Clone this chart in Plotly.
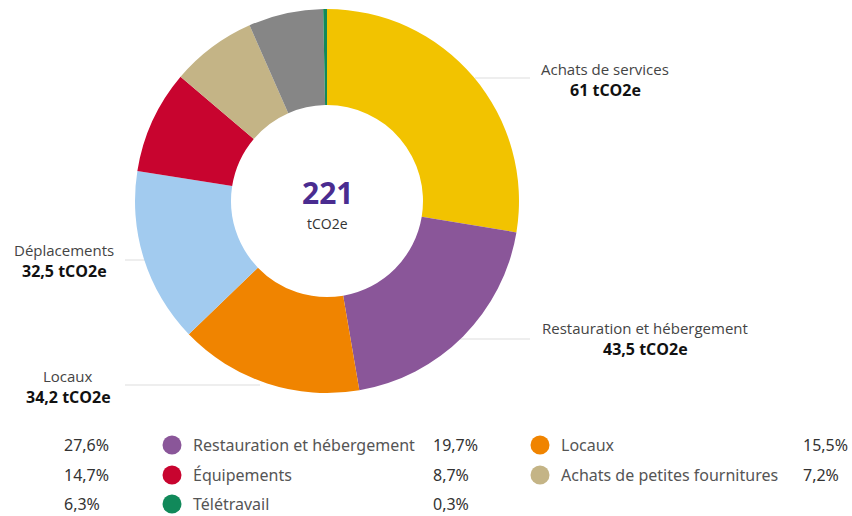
import plotly.graph_objects as go

# data
categories = ["Achats de services", "Restauration et hébergement", "Locaux",
              "Déplacements", "Équipements", "Achats de petites fournitures",
              "Autres", "Télétravail"]
values = [61, 43.5, 34.2, 32.5, 19.2, 15.9, 13.9, 0.7]
colors = ["#F2C300", "#8A5699", "#F08400", "#A2CBEF",
          "#C8042F", "#C4B486", "#868686", "#11895A"]
unit = "tCO2e"

# slices that get an outside callout: (index, text x px, text y px, line x0, line x1, line y)
callouts = [
    (0, 605, 79, 475, 530, 78),
    (1, 645, 338, 460, 530, 339),
    (3, 64, 260, 125, 150, 260),
    (2, 68, 386, 125, 260, 385),
]

W, H = 852, 516
FONT = "Open Sans"
LEG_FONT = "Noto Sans"


def px(x):
    return x / W


def py(y):
    return 1 - y / H


def fmt(v, nd=1):
    s = f"{v:.{nd}f}".replace(".", ",")
    if s.endswith(",0"):
        s = s[:-2]
    return s


total = sum(values)
shares = [v / total * 100 for v in values]

fig = go.Figure(go.Pie(
    labels=categories,
    values=values,
    marker=dict(colors=colors, line=dict(width=0)),
    hole=0.5,
    sort=False,
    direction="clockwise",
    rotation=0,
    textinfo="none",
    showlegend=False,
    domain=dict(x=[px(327 - 192), px(327 + 192)], y=[py(393), py(9)]),
))

annotations = [
    dict(x=px(327), y=py(192), text=f"<b>{round(total)}</b>", showarrow=False,
         xanchor="center", yanchor="middle",
         font=dict(family=FONT, size=30, color="#4A2C90")),
    dict(x=px(327), y=py(212), text=unit, showarrow=False,
         xanchor="center", yanchor="top",
         font=dict(family=FONT, size=14, color="#333333")),
]
shapes = []

for i, tx, ty, lx0, lx1, ly in callouts:
    annotations.append(dict(
        x=px(tx), y=py(ty - 10), text=categories[i], showarrow=False,
        xanchor="center", yanchor="middle", borderpad=0,
        font=dict(family=FONT, size=15, color="#444444")))
    annotations.append(dict(
        x=px(tx), y=py(ty + 11), text=f"<b>{fmt(values[i])} {unit}</b>",
        showarrow=False, xanchor="center", yanchor="middle", borderpad=0,
        font=dict(family=FONT, size=16, color="#111111")))
    shapes.append(dict(type="line", xref="paper", yref="paper",
                       x0=px(lx0), x1=px(lx1), y0=py(ly), y1=py(ly),
                       line=dict(color="#DDDDDD", width=1), layer="below"))

# legend table (the first column is cut off on the left in the original)
col_x = [-305, 172, 540]      # marker centre per column
pct_x = [63, 432, 802]        # percentage left edge per column
row_y = [445, 475, 504]
for k, cat in enumerate(categories):
    r, c = divmod(k, 3)
    y = row_y[r]
    cx = col_x[c]
    if cx > 0:
        shapes.append(dict(type="circle", xref="paper", yref="paper",
                           x0=px(cx - 9.5), x1=px(cx + 9.5),
                           y0=py(y - 9.5), y1=py(y + 9.5),
                           fillcolor=colors[k], line=dict(width=0)))
        annotations.append(dict(
            x=px(cx + 20), y=py(y), xanchor="left", yanchor="middle",
            text=cat, showarrow=False, borderpad=0,
            font=dict(family=LEG_FONT, size=16, color="#555555")))
    annotations.append(dict(
        x=px(pct_x[c]), y=py(y), xanchor="left", yanchor="middle",
        text=fmt(shares[k]) + "%", showarrow=False, borderpad=0,
        font=dict(family=LEG_FONT, size=16, color="#333333")))

fig.update_layout(
    width=W, height=H,
    margin=dict(l=0, r=0, t=0, b=0),
    paper_bgcolor="white",
    plot_bgcolor="white",
    annotations=annotations,
    shapes=shapes,
)

# drop the default body margin so the figure fills the window exactly
fig.write_html("out.html", config={"displayModeBar": False},
               post_script="document.body.style.margin='0';")
